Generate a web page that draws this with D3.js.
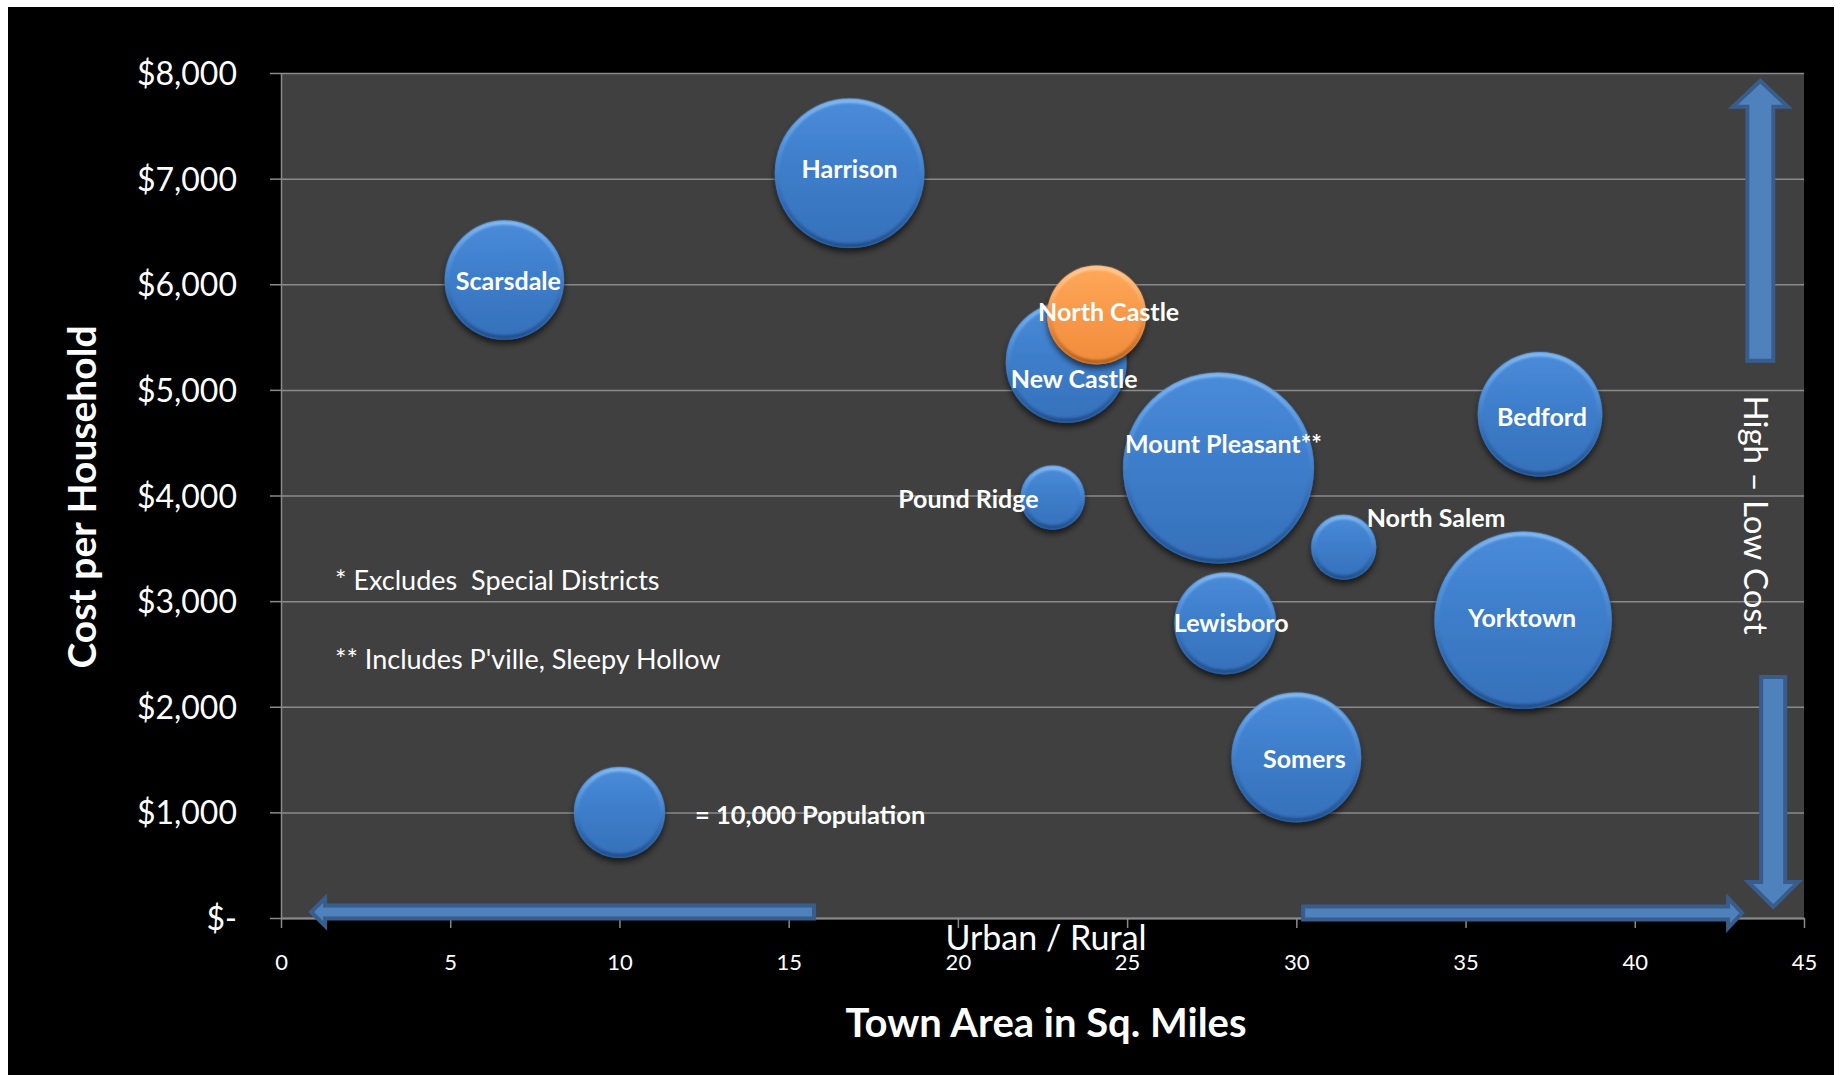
<!DOCTYPE html>
<html>
<head>
<meta charset="utf-8">
<script src="https://cdn.jsdelivr.net/npm/d3@7"></script>
<style>
  html, body { margin: 0; padding: 0; background: #fff; }
  svg { display: block; }
  text { font-family: Lato, "Open Sans", "DejaVu Sans", sans-serif; }
</style>
</head>
<body>
<svg id="chart" width="1843" height="1075"></svg>
<script>
// ---- Data: Westchester towns ----
const towns            = ["Mount Pleasant**", "Yorktown", "Harrison", "Somers", "Bedford", "New Castle", "Scarsdale", "Lewisboro", "North Castle", "Pound Ridge", "North Salem"];
const areaSqMiles      = [27.7, 36.7, 16.8, 30.0, 37.2, 23.2, 6.6, 27.9, 24.1, 22.8, 31.4];
const costPerHousehold = [4260, 2820, 7050, 1520, 4770, 5260, 6040, 2790, 5710, 3980, 3510];
const population       = [44000, 38000, 27000, 20300, 18700, 17600, 17200, 12500, 11800, 5000, 5100];
const highlightedTown  = "North Castle";

// Size key bubble
const keyArea = [10];
const keyCost = [1000];
const keyPopulation = [10000];
const keyText = ["= 10,000 Population"];

// Axes
const xTicks = [0, 5, 10, 15, 20, 25, 30, 35, 40, 45];
const yTicks = [0, 1000, 2000, 3000, 4000, 5000, 6000, 7000, 8000];
const yTickLabels = ["$-", "$1,000", "$2,000", "$3,000", "$4,000", "$5,000", "$6,000", "$7,000", "$8,000"];

// Notes
const notes = ["* Excludes  Special Districts", "** Includes P'ville, Sleepy Hollow"];

// ---- Layout ----
const W = 1843, H = 1075;
const plot = { left: 281, right: 1804, top: 73, bottom: 918 };
const svg = d3.select("#chart");

const x = d3.scaleLinear().domain([0, 45]).range([plot.left, plot.right]);
const y = d3.scaleLinear().domain([0, 8000]).range([plot.bottom, plot.top]);
const r = d3.scaleSqrt().domain([0, 10000]).range([0, 45.5]);

// label placement nudges (pixels)
const labelPlacement = {
  "Harrison":         { dx: 0,   dy: -4,  anchor: "middle" },
  "Scarsdale":        { dx: 4,   dy: 1,   anchor: "middle" },
  "North Castle":     { dx: 12,  dy: -3,  anchor: "middle" },
  "New Castle":       { dx: 8,   dy: 17,  anchor: "middle" },
  "Mount Pleasant**": { dx: 5,   dy: -24, anchor: "middle" },
  "Pound Ridge":      { dx: -14, dy: 1,   anchor: "end" },
  "North Salem":      { dx: 23,  dy: -29, anchor: "start" },
  "Lewisboro":        { dx: 6,   dy: 0,   anchor: "middle" },
  "Somers":           { dx: 8,   dy: 2,   anchor: "middle" },
  "Bedford":          { dx: 2,   dy: 3,   anchor: "middle" },
  "Yorktown":         { dx: -1,  dy: -2,  anchor: "middle" }
};

// ---- Defs: bubble shading ----
const defs = svg.append("defs");

function vGrad(id, stops) {
  const g = defs.append("linearGradient").attr("id", id)
    .attr("x1", 0).attr("y1", 0).attr("x2", 0).attr("y2", 1);
  stops.forEach(([o, c]) => g.append("stop").attr("offset", o).attr("stop-color", c));
}
vGrad("blueFill",   [["0%", "#4a8cda"], ["45%", "#3e7ecb"], ["100%", "#3670ba"]]);
vGrad("blueRim",    [["0%", "#8fc2f4"], ["30%", "#5a98e0"], ["70%", "#2f67ad"], ["100%", "#1f4a82"]]);
vGrad("orangeFill", [["0%", "#ffa85a"], ["45%", "#f89a4a"], ["100%", "#f08c3c"]]);
vGrad("orangeRim",  [["0%", "#ffd3a6"], ["30%", "#fdb06c"], ["70%", "#d87a30"], ["100%", "#a85a1a"]]);

const shadow = defs.append("filter").attr("id", "bubbleShadow")
  .attr("x", "-30%").attr("y", "-30%").attr("width", "160%").attr("height", "170%");
shadow.append("feDropShadow").attr("dx", 0).attr("dy", 4).attr("stdDeviation", 3)
  .attr("flood-color", "#000").attr("flood-opacity", 0.65);

const soften = defs.append("filter").attr("id", "rimBlur")
  .attr("x", "-20%").attr("y", "-20%").attr("width", "140%").attr("height", "140%");
soften.append("feGaussianBlur").attr("stdDeviation", 1.3);

// ---- Background ----
svg.append("rect").attr("width", W).attr("height", H).attr("fill", "#fff");
svg.append("rect").attr("x", 8).attr("y", 7).attr("width", 1826).attr("height", 1068).attr("fill", "#000");
svg.append("rect")
  .attr("x", plot.left).attr("y", plot.top)
  .attr("width", plot.right - plot.left).attr("height", plot.bottom - plot.top)
  .attr("fill", "#404040");

// ---- Gridlines ----
svg.append("g")
  .attr("transform", `translate(${plot.left},0)`)
  .call(d3.axisLeft(y).tickValues(yTicks).tickSize(-(plot.right - plot.left)).tickFormat(""))
  .call(g => g.select(".domain").remove())
  .call(g => g.selectAll("line").attr("stroke", "#8a8a8a").attr("stroke-width", 1.5));

// ---- Axes ----
const yAxisG = svg.append("g")
  .attr("transform", `translate(${plot.left},0)`)
  .call(d3.axisLeft(y).tickValues(yTicks).tickSizeInner(11).tickSizeOuter(0).tickPadding(33)
    .tickFormat((d, i) => yTickLabels[i]));
yAxisG.attr("font-family", null).attr("font-size", null);
yAxisG.select(".domain").attr("stroke", "#8a8a8a").attr("stroke-width", 1.5);
yAxisG.selectAll(".tick line").attr("stroke", "#8a8a8a").attr("stroke-width", 1.5);
yAxisG.selectAll(".tick text")
  .attr("fill", "#fff").attr("font-size", 32).attr("dy", "0.36em");

const xAxisG = svg.append("g")
  .attr("transform", `translate(0,${plot.bottom})`)
  .call(d3.axisBottom(x).tickValues(xTicks).tickSizeInner(10).tickSizeOuter(0).tickPadding(26));
xAxisG.attr("font-family", null).attr("font-size", null);
xAxisG.select(".domain").attr("stroke", "#8a8a8a").attr("stroke-width", 2);
xAxisG.selectAll(".tick line").attr("stroke", "#8a8a8a").attr("stroke-width", 1.5);
xAxisG.selectAll(".tick text").attr("fill", "#fff").attr("font-size", 22);

// ---- Bubbles ----
const rows = towns.map((t, i) => ({
  town: t, area: areaSqMiles[i], cost: costPerHousehold[i], pop: population[i]
}));
const keyRows = keyArea.map((a, i) => ({
  town: null, area: a, cost: keyCost[i], pop: keyPopulation[i], text: keyText[i]
}));

function drawBubble(sel) {
  sel.each(function (d) {
    const g = d3.select(this);
    const hot = d.town === highlightedTown;
    const cx = x(d.area), cy = y(d.cost), rad = r(d.pop);
    g.append("circle").attr("cx", cx).attr("cy", cy).attr("r", rad)
      .attr("fill", hot ? "url(#orangeFill)" : "url(#blueFill)")
      .attr("filter", "url(#bubbleShadow)");
    g.append("circle").attr("cx", cx).attr("cy", cy).attr("r", rad - 2.5)
      .attr("fill", "none")
      .attr("stroke", hot ? "url(#orangeRim)" : "url(#blueRim)")
      .attr("stroke-width", 4).attr("opacity", 0.85)
      .attr("filter", "url(#rimBlur)");
  });
}

const sorted = rows.slice().sort((a, b) => b.pop - a.pop);
svg.append("g").selectAll("g.bubble").data(sorted).join("g").attr("class", "bubble").call(drawBubble);
svg.append("g").selectAll("g.key").data(keyRows).join("g").attr("class", "key").call(drawBubble);

// ---- Annotation arrows (data units) ----
const arrows = [
  { from: [15.75, 57],  to: [0.89, 57],    shaft: 13, head: 28, headLen: 14 },
  { from: [30.2, 47],   to: [43.17, 47],   shaft: 13, head: 30, headLen: 14 },
  { from: [43.71, 5275], to: [43.71, 7926], shaft: 26, head: 55, headLen: 26 },
  { from: [44.09, 2282], to: [44.09, 104],  shaft: 24, head: 50, headLen: 25 }
];
function blockArrow(a) {
  const x1 = x(a.from[0]), y1 = y(a.from[1]), x2 = x(a.to[0]), y2 = y(a.to[1]);
  const dx = x2 - x1, dy = y2 - y1, L = Math.hypot(dx, dy);
  const ux = dx / L, uy = dy / L, px = -uy, py = ux;
  const bx = x2 - ux * a.headLen, by = y2 - uy * a.headLen;
  const s = a.shaft / 2, h = a.head / 2;
  const pts = [
    [x1 + px * s, y1 + py * s], [bx + px * s, by + py * s], [bx + px * h, by + py * h],
    [x2, y2],
    [bx - px * h, by - py * h], [bx - px * s, by - py * s], [x1 - px * s, y1 - py * s]
  ];
  return d3.line()(pts) + "Z";
}
svg.append("g").selectAll("path").data(arrows).join("path")
  .attr("d", blockArrow)
  .attr("fill", "#4f81bd")
  .attr("stroke", "#385d8a")
  .attr("stroke-width", 4)
  .attr("stroke-linejoin", "miter");

// ---- Bubble labels ----
svg.append("g").selectAll("text").data(rows).join("text")
  .attr("x", d => x(d.area) + labelPlacement[d.town].dx)
  .attr("y", d => y(d.cost) + labelPlacement[d.town].dy)
  .attr("dy", "0.36em")
  .attr("text-anchor", d => labelPlacement[d.town].anchor)
  .attr("fill", "#fff").attr("font-weight", 700).attr("font-size", 25)
  .text(d => d.town);

svg.append("g").selectAll("text").data(keyRows).join("text")
  .attr("x", d => x(d.area) + r(d.pop) + 30)
  .attr("y", d => y(d.cost) + 2)
  .attr("dy", "0.36em")
  .attr("fill", "#fff").attr("font-weight", 700).attr("font-size", 25.5)
  .text(d => d.text);

// ---- Notes ----
svg.append("g").selectAll("text").data(notes).join("text")
  .attr("x", 335)
  .attr("y", (d, i) => 580 + i * 79)
  .attr("dy", "0.36em")
  .attr("fill", "#fff").attr("font-size", 27)
  .style("white-space", "pre")
  .text(d => d);

// ---- Titles ----
svg.append("text")
  .attr("x", 1046).attr("y", 950)
  .attr("text-anchor", "middle").attr("fill", "#fff").attr("font-size", 34)
  .text("Urban / Rural");

svg.append("text")
  .attr("x", 1046).attr("y", 1037)
  .attr("text-anchor", "middle").attr("fill", "#fff").attr("font-size", 40).attr("font-weight", 700)
  .text("Town Area in Sq. Miles");

svg.append("text")
  .attr("transform", "translate(96,497) rotate(-90)")
  .attr("text-anchor", "middle").attr("fill", "#fff").attr("font-size", 39).attr("font-weight", 700)
  .text("Cost per Household");

svg.append("text")
  .attr("transform", "translate(1744,515) rotate(90)")
  .attr("text-anchor", "middle").attr("fill", "#fff").attr("font-size", 33)
  .text("High \u2013 Low Cost");
</script>
</body>
</html>
